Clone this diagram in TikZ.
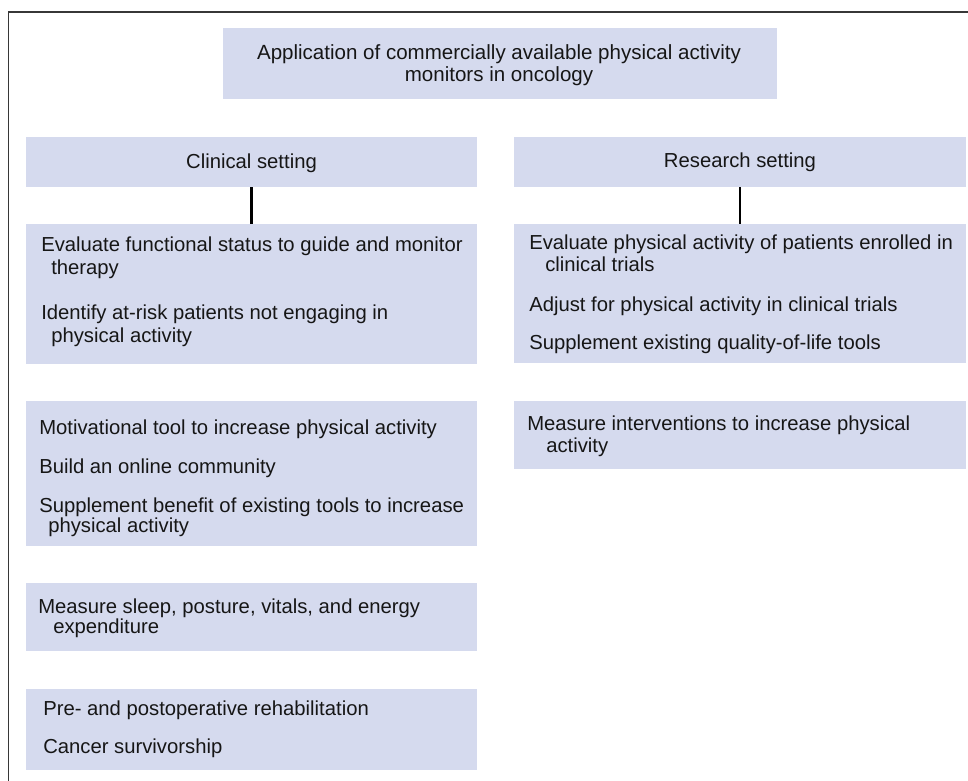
\documentclass[tikz,border=0pt]{standalone}
\usepackage{fontspec}
\setmainfont{Liberation Sans}
\usetikzlibrary{fit}
\definecolor{boxfill}{RGB}{213,218,238}
\definecolor{framegray}{RGB}{55,55,55}
\definecolor{txt}{RGB}{22,22,22}
\begin{document}
\begin{tikzpicture}[x=0.75pt,y=-0.75pt,
  box/.style={fill=boxfill,draw=none,inner sep=0pt},
  lbl/.style={anchor=base west,inner sep=0pt,font=\fontsize{15.2}{18}\selectfont,text=txt},
  ctr/.style={anchor=base,inner sep=0pt,font=\fontsize{15.2}{18}\selectfont,text=txt},
  ttl/.style={anchor=base,inner sep=0pt,font=\fontsize{15.4}{18}\selectfont,text=txt},
  link/.style={line width=1.6pt,black},
  framel/.style={line width=1.1pt,framegray}]
\useasboundingbox (0,0) rectangle (968,781);
\fill[white] (0,0) rectangle (968,781);
\coordinate (fbl) at (8.5,781);
\coordinate (ftl) at (8.5,12);
\coordinate (ftr) at (968,12);
\draw[framel] (fbl) -- (ftl) -- (ftr);

% boxes
\node[box,fit={(223,28) (777,99)}] (title) {};
\node[box,fit={(26,137) (477,187)}] (clin) {};
\node[box,fit={(514,137) (966,187)}] (res) {};
\node[box,fit={(26,224) (477,364)}] (clin2) {};
\node[box,fit={(514,224) (966,363)}] (res2) {};
\node[box,fit={(26,401) (477,546)}] (motiv) {};
\node[box,fit={(514,401) (966,469)}] (measint) {};
\node[box,fit={(26,583) (477,651)}] (sleep) {};
\node[box,fit={(26,689) (477,770)}] (preop) {};

% connectors
\draw[link] (clin.south) -- (clin2.north);
\draw[link] (res.south) -- (res2.north);

% title
\node[ttl] (t1) at (499,60) {Application of commercially available physical activity};
\node[ttl] (t2) at (499,82) {monitors in oncology};

% headers
\node[ctr] (h1) at (251.5,169) {Clinical setting};
\node[ctr] (h2) at (740,168) {Research setting};

% clinical box 2
\node[lbl] (c1) at (41,252) {Evaluate functional status to guide and monitor};
\node[lbl] (c2) at (51,275) {therapy};
\node[lbl] (c3) at (41,319) {Identify at-risk patients not engaging in};
\node[lbl] (c4) at (51,342) {physical activity};

% research box 2
\node[lbl] (r1) at (529,250) {Evaluate physical activity of patients enrolled in};
\node[lbl] (r2) at (545,272) {clinical trials};
\node[lbl] (r3) at (529,311) {Adjust for physical activity in clinical trials};
\node[lbl] (r4) at (529,349) {Supplement existing quality-of-life tools};

% motivational box
\node[lbl] (m1) at (39,434) {Motivational tool to increase physical activity};
\node[lbl] (m2) at (39,473) {Build an online community};
\node[lbl] (m3) at (39,512) {Supplement benefit of existing tools to increase};
\node[lbl] (m4) at (48,532) {physical activity};

% measure interventions
\node[lbl] (i1) at (527,430) {Measure interventions to increase physical};
\node[lbl] (i2) at (546,452) {activity};

% sleep
\node[lbl] (s1) at (38,613) {Measure sleep, posture, vitals, and energy};
\node[lbl] (s2) at (53,633) {expenditure};

% pre-op
\node[lbl] (p1) at (43,715) {Pre- and postoperative rehabilitation};
\node[lbl] (p2) at (43,753) {Cancer survivorship};
\end{tikzpicture}
\end{document}
